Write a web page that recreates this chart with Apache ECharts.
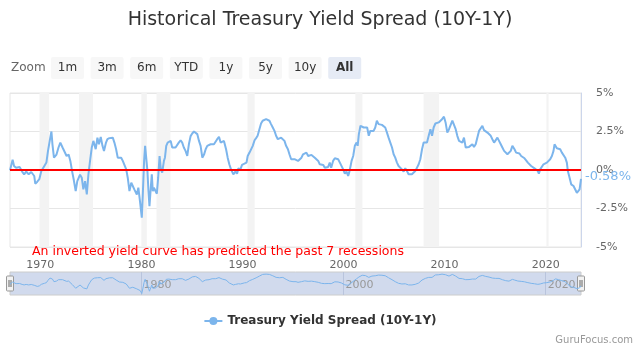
<!DOCTYPE html>
<html>
<head>
<meta charset="utf-8">
<script src="https://cdn.jsdelivr.net/npm/echarts@6/dist/echarts.min.js"></script>
<style>
  html, body { margin: 0; padding: 0; background: #fff; }
  #chart { width: 640px; height: 352px; }
</style>
</head>
<body>
<div id="chart"></div>
<script>
const years = [
  1967.0, 1967.26, 1967.4, 1967.6, 1967.95, 1968.2, 1968.4, 1968.6, 1968.85, 1969.1,
  1969.4, 1969.5, 1969.7, 1969.9, 1970.1, 1970.4, 1970.6, 1970.76, 1970.96, 1971.1,
  1971.2, 1971.35, 1971.6, 1971.8, 1971.98, 1972.2, 1972.35, 1972.6, 1972.8, 1972.97,
  1973.17, 1973.3, 1973.5, 1973.66, 1973.93, 1974.1, 1974.26, 1974.43, 1974.6, 1974.76,
  1974.92, 1975.09, 1975.25, 1975.35, 1975.48, 1975.65, 1975.8, 1975.98, 1976.15, 1976.3,
  1976.5, 1976.64, 1976.84, 1977.0, 1977.17, 1977.33, 1977.5, 1977.66, 1977.83, 1978.0,
  1978.16, 1978.3, 1978.5, 1978.65, 1978.82, 1979.0, 1979.15, 1979.3, 1979.55, 1979.7,
  1979.88, 1980.04, 1980.14, 1980.27, 1980.37, 1980.47, 1980.6, 1980.7, 1980.8, 1980.93,
  1981.03, 1981.13, 1981.24, 1981.4, 1981.53, 1981.66, 1981.8, 1981.93, 1982.06, 1982.23,
  1982.33, 1982.46, 1982.6, 1982.72, 1982.9, 1983.05, 1983.22, 1983.38, 1983.55, 1983.7,
  1983.88, 1984.04, 1984.2, 1984.37, 1984.54, 1984.7, 1984.87, 1985.03, 1985.2, 1985.36,
  1985.53, 1985.7, 1985.86, 1986.03, 1986.2, 1986.36, 1986.52, 1986.7, 1986.85, 1987.0,
  1987.18, 1987.35, 1987.5, 1987.68, 1987.84, 1988.0, 1988.17, 1988.38, 1988.54, 1988.7,
  1988.87, 1989.1, 1989.3, 1989.47, 1989.6, 1989.8, 1989.96, 1990.2, 1990.4, 1990.52,
  1990.7, 1990.85, 1991.02, 1991.2, 1991.35, 1991.5, 1991.68, 1991.84, 1992.0, 1992.17,
  1992.34, 1992.5, 1992.67, 1992.83, 1993.0, 1993.17, 1993.33, 1993.5, 1993.66, 1993.83,
  1994.0, 1994.16, 1994.32, 1994.5, 1994.65, 1994.82, 1995.0, 1995.15, 1995.3, 1995.5,
  1995.67, 1995.84, 1996.0, 1996.17, 1996.33, 1996.5, 1996.66, 1996.83, 1997.0, 1997.16,
  1997.32, 1997.5, 1997.65, 1997.82, 1998.0, 1998.15, 1998.31, 1998.48, 1998.64, 1998.78,
  1998.97, 1999.14, 1999.3, 1999.47, 1999.64, 1999.8, 1999.97, 2000.13, 2000.3, 2000.46,
  2000.56, 2000.7, 2000.8, 2000.96, 2001.12, 2001.3, 2001.4, 2001.52, 2001.68, 2001.85,
  2002.0, 2002.18, 2002.34, 2002.5, 2002.65, 2002.81, 2002.98, 2003.14, 2003.3, 2003.47,
  2003.64, 2003.8, 2003.97, 2004.13, 2004.3, 2004.46, 2004.63, 2004.8, 2004.96, 2005.12,
  2005.29, 2005.45, 2005.62, 2005.78, 2005.95, 2006.11, 2006.28, 2006.44, 2006.61, 2006.77,
  2006.94, 2007.1, 2007.27, 2007.44, 2007.6, 2007.77, 2007.93, 2008.1, 2008.26, 2008.43,
  2008.6, 2008.76, 2008.92, 2009.09, 2009.25, 2009.42, 2009.58, 2009.75, 2009.94, 2010.1,
  2010.27, 2010.44, 2010.6, 2010.77, 2010.93, 2011.1, 2011.26, 2011.43, 2011.59, 2011.76,
  2011.92, 2012.09, 2012.25, 2012.42, 2012.58, 2012.75, 2012.91, 2013.08, 2013.24, 2013.41,
  2013.57, 2013.74, 2013.9, 2014.07, 2014.24, 2014.4, 2014.57, 2014.73, 2014.9, 2015.06,
  2015.23, 2015.39, 2015.56, 2015.72, 2015.89, 2016.05, 2016.22, 2016.38, 2016.55, 2016.71,
  2016.92, 2017.08, 2017.25, 2017.41, 2017.58, 2017.74, 2017.91, 2018.07, 2018.24, 2018.4,
  2018.57, 2018.73, 2018.9, 2019.06, 2019.23, 2019.33, 2019.46, 2019.62, 2019.79, 2019.95,
  2020.12, 2020.28, 2020.45, 2020.62, 2020.78, 2020.88, 2020.98, 2021.11, 2021.28, 2021.44,
  2021.61, 2021.77, 2021.94, 2022.1, 2022.2, 2022.37, 2022.53, 2022.63, 2022.76, 2022.93,
  2023.09, 2023.22, 2023.36, 2023.5
]
const spreads = [
  -0.02, 0.67, 0.26, 0.15, 0.2, -0.1, -0.28, -0.1, -0.28, -0.13,
  -0.39, -0.89, -0.76, -0.6, -0.07, 0.26, 0.48, 1.24, 2.0, 2.5,
  1.67, 0.8, 1.0, 1.46, 1.78, 1.46, 1.57, 0.91, 1.0, 0.59,
  -0.17, -0.6, -1.37, -0.72, -0.3, -0.5, -1.26, -0.72, -1.59, -0.28,
  0.59, 1.46, 1.89, 2.0, 1.35, 2.1, 1.67, 2.15, 1.57, 1.24,
  1.78, 2.0, 2.07, 2.0, 2.1, 1.78, 1.35, 0.8, 0.7, 0.8,
  0.59, 0.37, 0.04, -0.5, -1.37, -0.83, -1.04, -1.26, -1.59, -1.15,
  -2.13, -3.1, -1.59, 0.59, 1.57, 1.46, -0.07, -1.37, -2.35, -1.15,
  -0.28, -1.37, -1.15, -1.26, -1.54, -0.5, 0.91, 0.04, -0.17, 0.59,
  0.8, 1.57, 1.78, 1.67, 1.89, 1.46, 1.35, 1.46, 1.35, 1.78,
  1.93, 1.78, 1.46, 1.24, 0.91, 1.67, 2.2, 2.37, 2.5, 2.54,
  2.33, 1.89, 1.57, 0.8, 1.0, 1.35, 1.57, 1.46, 1.67, 1.78,
  1.67, 1.78, 2.0, 2.15, 1.78, 1.67, 1.89, 1.35, 0.8, 0.37,
  0.04, -0.28, -0.1, -0.24, 0.11, 0.04, 0.33, 0.41, 0.48, 0.91,
  1.13, 1.24, 1.57, 1.93, 2.07, 2.22, 2.65, 3.02, 3.2, 3.24,
  3.3, 3.37, 3.2, 2.98, 2.76, 2.54, 2.22, 2.0, 2.1, 2.1,
  2.22, 1.89, 1.57, 1.35, 1.02, 0.7, 0.8, 0.7, 0.8, 0.59,
  0.48, 0.8, 1.02, 1.07, 1.13, 0.91, 1.02, 0.98, 0.91, 0.8,
  0.76, 0.59, 0.37, 0.26, 0.33, 0.15, 0.11, 0.2, 0.48, 0.15,
  0.59, 0.76, 0.85, 0.7, 0.48, 0.37, 0.04, -0.24, -0.1, -0.39,
  -0.17, 0.26, 0.59, 0.91, 1.57, 1.78, 1.57, 2.33, 2.87, 2.93,
  2.76, 2.8, 2.76, 2.22, 2.54, 2.65, 2.54, 2.76, 3.2, 2.98,
  3.09, 2.93, 2.98, 2.76, 2.43, 2.1, 1.78, 1.46, 1.02, 0.8,
  0.48, 0.26, 0.15, 0.04, -0.1, 0.11, -0.07, -0.28, -0.39, -0.28,
  -0.17, -0.07, 0.04, 0.37, 0.7, 1.35, 1.78, 1.89, 1.78, 2.22,
  2.65, 2.22, 2.76, 3.02, 2.98, 3.09, 3.02, 3.3, 3.46, 3.09,
  2.43, 2.65, 2.76, 3.2, 3.09, 2.65, 2.22, 1.89, 2.0, 1.78,
  2.1, 1.46, 1.41, 1.5, 1.57, 1.67, 1.5, 1.67, 2.1, 2.54,
  2.65, 2.87, 2.59, 2.54, 2.43, 2.33, 2.22, 2.0, 1.78, 1.89,
  2.1, 1.89, 1.67, 1.46, 1.24, 1.13, 1.02, 0.98, 1.24, 1.57,
  1.35, 1.13, 1.02, 1.07, 0.91, 0.8, 0.76, 0.63, 0.48, 0.37,
  0.26, 0.2, 0.11, 0.04, -0.07, -0.24, 0.04, 0.11, 0.37, 0.48,
  0.48, 0.59, 0.7, 0.91, 1.24, 1.67, 1.72, 1.41, 1.46, 1.35,
  1.13, 1.02, 0.8, 0.48, -0.07, -0.5, -0.93, -0.83, -1.04, -1.15,
  -1.48, -1.59, -1.26, -0.58
]
// NBER recessions (start, end) in decimal years
const recessions = [
  [1969.92, 1970.87], [1973.83, 1975.21], [1980.0, 1980.54], [1981.5, 1982.87],
  [1990.5, 1991.21], [2001.17, 2001.87], [2007.92, 2009.46], [2020.08, 2020.29]
]
const xLabelYears = [1970, 1980, 1990, 2000, 2010, 2020]
const navLabelYears = [1980, 2000, 2020]
const rangeButtons = ['1m', '3m', '6m', 'YTD', '1y', '5y', '10y', 'All']
const seriesName = 'Treasury Yield Spread (10Y-1Y)'
const note = 'An inverted yield curve has predicted the past 7 recessions'

const FONT = '"DejaVu Sans", sans-serif'
const BLUE = '#7cb5ec'
const points = years.map((y, i) => [y, spreads[i]])
const xMin = 1967
const xMax = years[years.length - 1]

const chart = echarts.init(document.getElementById('chart'))

// range selector buttons (decoration only)
const buttonGraphics = rangeButtons.map((label, i) => {
  const selected = label === 'All'
  return {
    type: 'group',
    x: 51 + i * 39.6,
    y: 57,
    children: [
      {
        type: 'rect',
        shape: { x: 0, y: 0, width: 33, height: 22, r: 2 },
        style: { fill: selected ? '#e6ebf5' : '#f7f7f7' }
      },
      {
        type: 'text',
        x: 16.5,
        y: 11,
        style: {
          text: label, fill: '#333', font: (selected ? 'bold ' : '') + '12px ' + FONT,
          align: 'center', verticalAlign: 'middle'
        }
      }
    ]
  }
})

// navigator handles
function handle(x) {
  return {
    type: 'group',
    x: x,
    y: 276,
    children: [
      { type: 'rect', shape: { x: 0, y: 0, width: 7, height: 15, r: 1 }, style: { fill: '#f2f2f2', stroke: '#999', lineWidth: 1 } },
      { type: 'line', shape: { x1: 2.5, y1: 4, x2: 2.5, y2: 11 }, style: { stroke: '#666', lineWidth: 1 } },
      { type: 'line', shape: { x1: 4.5, y1: 4, x2: 4.5, y2: 11 }, style: { stroke: '#666', lineWidth: 1 } }
    ]
  }
}

const options = {
  animation: false,
  textStyle: { fontFamily: FONT },
  title: {
    text: 'Historical Treasury Yield Spread (10Y-1Y)',
    left: 'center',
    top: 6,
    textStyle: { fontSize: 19, fontWeight: 'normal', color: '#333', fontFamily: FONT }
  },
  legend: {
    data: [seriesName],
    bottom: 20,
    left: 'center',
    itemWidth: 18,
    itemHeight: 10,
    textStyle: { fontSize: 12, fontWeight: 'bold', color: '#333', fontFamily: FONT }
  },
  grid: [
    { left: 10, right: 59, top: 93, bottom: 105, show: true, borderColor: '#e6e6e6', borderWidth: 1 },
    { left: 10, right: 59, top: 272, height: 23, show: true, borderColor: '#cccccc', borderWidth: 1,
      backgroundColor: 'rgba(102,133,194,0.3)' }
  ],
  xAxis: [
    {
      type: 'value', gridIndex: 0, min: xMin, max: xMax,
      axisLine: { show: false },
      axisTick: { show: false },
      splitLine: { show: false },
      axisLabel: { customValues: xLabelYears, color: '#666', fontSize: 11, margin: 13, formatter: v => String(v) }
    },
    {
      type: 'value', gridIndex: 1, min: xMin, max: xMax,
      axisLine: { show: false },
      axisTick: { show: false, customValues: navLabelYears },
      splitLine: { show: true, lineStyle: { color: '#b9c4dc', width: 1 } },
      axisLabel: { customValues: navLabelYears, inside: true, margin: 4, align: 'left', padding: [0, 0, 0, 2],
        color: '#999', fontSize: 11, formatter: v => String(v) }
    }
  ],
  yAxis: [
    {
      type: 'value', gridIndex: 0, position: 'right', min: -5, max: 5, interval: 2.5,
      axisLine: { show: true, lineStyle: { color: '#ccd6eb' } },
      axisTick: { show: false },
      splitLine: { lineStyle: { color: '#e6e6e6' } },
      axisLabel: { color: '#666', fontSize: 11, margin: 15, formatter: v => v + '%' }
    },
    {
      type: 'value', gridIndex: 1, min: -3.6, max: 4,
      show: false
    }
  ],
  series: [
    {
      name: seriesName,
      type: 'line',
      xAxisIndex: 0,
      yAxisIndex: 0,
      data: points,
      showSymbol: false,
      symbol: 'circle',
      symbolSize: 8,
      lineStyle: { color: BLUE, width: 2 },
      itemStyle: { color: BLUE },
      z: 3,
      endLabel: {
        show: true,
        distance: 4,
        offset: [0, -2],
        color: BLUE,
        fontSize: 13,
        fontFamily: FONT,
        formatter: p => p.value[1].toFixed(2) + '%'
      },
      markLine: {
        silent: true,
        symbol: 'none',
        label: { show: false },
        lineStyle: { color: '#ff0000', width: 2, type: 'solid' },
        data: [{ yAxis: 0 }]
      },
      markArea: {
        silent: true,
        itemStyle: { color: '#f3f3f3', opacity: 1 },
        data: recessions.map(r => [{ xAxis: r[0] }, { xAxis: r[1] }])
      }
    },
    {
      name: 'navigator',
      type: 'line',
      xAxisIndex: 1,
      yAxisIndex: 1,
      data: points,
      showSymbol: false,
      symbol: 'none',
      silent: true,
      lineStyle: { color: BLUE, width: 1 }
    }
  ],
  graphic: [
    {
      type: 'text', x: 11, y: 68, z: 100,
      style: { text: 'Zoom', fill: '#666', font: '12px ' + FONT, verticalAlign: 'middle' }
    },
    ...buttonGraphics,
    {
      type: 'text', x: 32, y: 252, z: 100,
      style: { text: note, fill: '#ff0000', font: '12.5px ' + FONT, verticalAlign: 'middle' }
    },
    handle(6.5),
    handle(577.5),
    {
      type: 'text', x: 633, y: 340, z: 100,
      style: { text: 'GuruFocus.com', fill: '#999', font: '10px ' + FONT, align: 'right', verticalAlign: 'middle' }
    }
  ]
}

chart.setOption(options)
</script>
</body>
</html>
